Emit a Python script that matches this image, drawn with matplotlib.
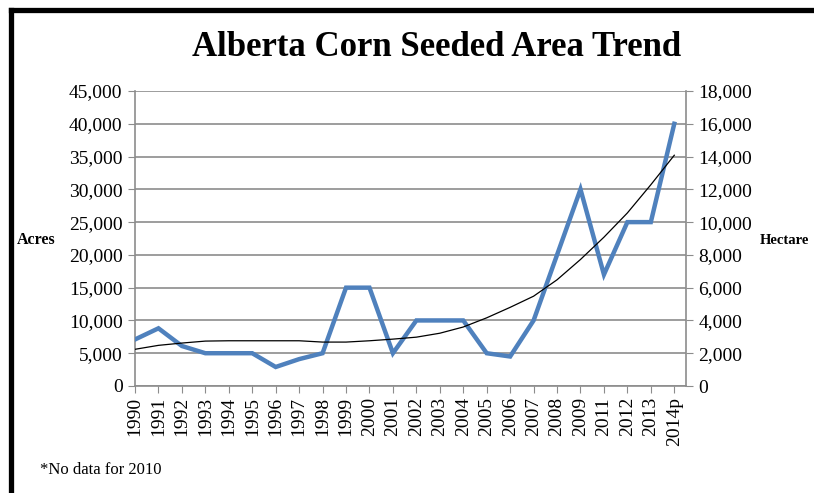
import matplotlib
matplotlib.use('Agg')
import matplotlib.pyplot as plt
from matplotlib.lines import Line2D
from matplotlib.ticker import FuncFormatter

# data
years = ['1990', '1991', '1992', '1993', '1994', '1995', '1996', '1997', '1998',
         '1999', '2000', '2001', '2002', '2003', '2004', '2005', '2006', '2007',
         '2008', '2009', '2011', '2012', '2013', '2014p']
acres = [7100, 8800, 6100, 5000, 5000, 5000, 2900, 4100, 5000,
         15000, 15000, 5000, 10000, 10000, 10000, 5000, 4500, 10000,
         20000, 30000, 17000, 25000, 25000, 40000]
trend = [5600, 6200, 6550, 6850, 6900, 6900, 6900, 6900, 6700,
         6700, 6900, 7150, 7450, 8050, 9000, 10400, 12000, 13700,
         16200, 19300, 22700, 26400, 30700, 35200]

acre_ticks = list(range(0, 45001, 5000))
hect_ticks = list(range(0, 18001, 2000))

BLUE = '#4F81BD'
GRID = '#8C8C8C'
FONT = 'Liberation Serif'

plt.rcParams['font.family'] = FONT

fig = plt.figure(figsize=(8.14, 4.93), dpi=100)
ax = fig.add_axes([135 / 814, 1 - 386 / 493, (686 - 135) / 814, (386 - 91) / 493])

x = list(range(len(years)))
ax.plot(x, acres, color=BLUE, linewidth=3.2, solid_joinstyle='miter', zorder=3)
ax.plot(x, trend, color='black', linewidth=0.9, zorder=4)

ax.set_xlim(0, len(years) - 0.5)
ax.set_ylim(0, 45000)
ax.set_yticks(acre_ticks)
ax.set_xticks(x)
ax.set_xticklabels(years, rotation=90, fontsize=14)
comma = FuncFormatter(lambda v, p: '{:,.0f}'.format(v))
ax.yaxis.set_major_formatter(comma)
ax.tick_params(axis='y', labelsize=14, length=5, color=GRID, pad=4)
ax.tick_params(axis='x', length=5, color=GRID, pad=3)
ax.yaxis.grid(True, color=GRID, linewidth=1.2)
ax.set_axisbelow(True)
for s in ['top', 'right']:
    ax.spines[s].set_visible(False)
for s in ['left', 'bottom']:
    ax.spines[s].set_color(GRID)
    ax.spines[s].set_linewidth(1.2)

ax2 = ax.twinx()
ax2.set_ylim(0, 18000)
ax2.set_yticks(hect_ticks)
ax2.yaxis.set_major_formatter(comma)
ax2.tick_params(axis='y', labelsize=14, length=5, color=GRID, pad=4)
for s in ['top', 'left', 'bottom']:
    ax2.spines[s].set_visible(False)
ax2.spines['right'].set_color(GRID)
ax2.spines['right'].set_linewidth(1.2)

fig.text(437 / 814, 1 - 47 / 493, 'Alberta Corn Seeded Area Trend', ha='center', va='center',
         fontsize=25, fontweight='bold')
fig.text(17 / 814, 1 - 240 / 493, 'Acres', ha='left', va='center', fontsize=11.5,
         fontweight='bold')
fig.text(760 / 814, 1 - 240 / 493, 'Hectare', ha='left', va='center', fontsize=10.5,
         fontweight='bold')
fig.text(40 / 814, 1 - 470 / 493, '*No data for 2010', ha='left', va='center', fontsize=12)

# thick frame on left and top edges
fig.add_artist(Line2D([11 / 814, 11 / 814], [-0.05, 1 - 10 / 493], color='black',
                      linewidth=3.8, transform=fig.transFigure, solid_capstyle='projecting'))
fig.add_artist(Line2D([11 / 814, 1.05], [1 - 10 / 493, 1 - 10 / 493], color='black',
                      linewidth=3.8, transform=fig.transFigure, solid_capstyle='projecting'))

fig.savefig('out.png', dpi=100)
